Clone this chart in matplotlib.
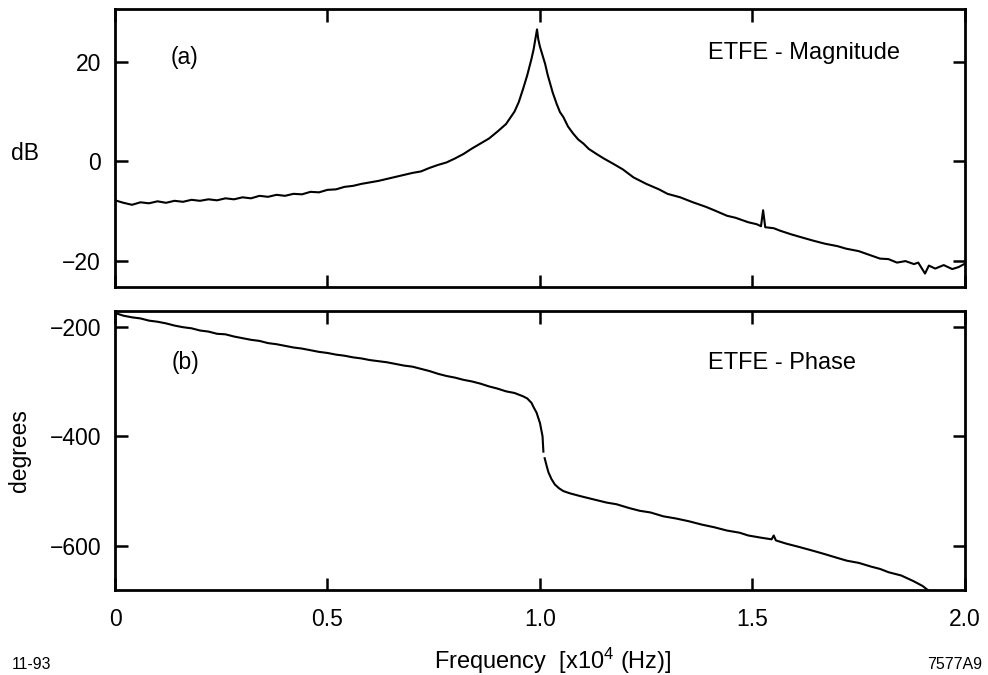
import numpy as np
import matplotlib
matplotlib.use('Agg')
import matplotlib.pyplot as plt

plt.rcParams['font.family'] = ['Liberation Sans', 'DejaVu Sans']
plt.rcParams['mathtext.fontset'] = 'custom'
plt.rcParams['mathtext.rm'] = 'Liberation Sans'
plt.rcParams['mathtext.it'] = 'Liberation Sans'

# ETFE magnitude (frequency in 1e4 Hz, dB)
mag_freq = [0.00, 0.02, 0.04, 0.06, 0.08, 0.10, 0.12, 0.14, 0.16, 0.18,
            0.20, 0.22, 0.24, 0.26, 0.28, 0.30, 0.32, 0.34, 0.36, 0.38,
            0.40, 0.42, 0.44, 0.46, 0.48, 0.50, 0.52, 0.54, 0.56, 0.58,
            0.60, 0.62, 0.64, 0.66, 0.68, 0.70, 0.72, 0.74, 0.76, 0.78,
            0.80, 0.82, 0.84, 0.86, 0.88, 0.90, 0.92, 0.94, 0.95, 0.96,
            0.97, 0.98, 0.985, 0.99, 0.993, 0.996, 1.00, 1.006, 1.012, 1.018,
            1.024, 1.03, 1.039, 1.047, 1.055, 1.066, 1.078, 1.09, 1.102, 1.115,
            1.133, 1.15, 1.173, 1.195, 1.22, 1.25, 1.28, 1.30, 1.33, 1.36,
            1.39, 1.41, 1.44, 1.46, 1.49, 1.51, 1.52, 1.525, 1.53, 1.55,
            1.565, 1.59, 1.61, 1.643, 1.67, 1.70, 1.72, 1.75, 1.78, 1.80,
            1.82, 1.84, 1.86, 1.88, 1.89, 1.906, 1.915, 1.93, 1.95, 1.97,
            1.985, 2.00]
mag_db = [-7.8, -8.3, -8.7, -8.2, -8.4, -8.0, -8.3, -7.9, -8.1, -7.7,
          -7.9, -7.6, -7.8, -7.4, -7.6, -7.2, -7.4, -6.9, -7.1, -6.7,
          -6.9, -6.5, -6.6, -6.1, -6.2, -5.7, -5.6, -5.1, -4.9, -4.5,
          -4.2, -3.9, -3.5, -3.1, -2.7, -2.3, -2.0, -1.3, -0.7, -0.2,
          0.6, 1.5, 2.6, 3.6, 4.6, 6.0, 7.5, 10.0, 11.9, 14.5,
          17.3, 20.6, 22.5, 25.0, 26.5, 24.5, 23.0, 21.3, 19.6, 17.4,
          15.6, 13.8, 11.6, 9.9, 8.9, 7.0, 5.6, 4.4, 3.6, 2.5,
          1.5, 0.6, -0.5, -1.6, -3.2, -4.5, -5.6, -6.5, -7.2, -8.2,
          -9.1, -9.8, -10.9, -11.3, -12.2, -12.6, -13.0, -9.8, -13.2, -13.4,
          -13.9, -14.6, -15.1, -15.9, -16.5, -17.0, -17.5, -18.0, -18.9, -19.5,
          -19.6, -20.3, -20.0, -20.6, -20.3, -22.5, -20.9, -21.5, -20.8, -21.6,
          -21.2, -20.5]

# ETFE phase (degrees); None marks the small break at the jump
ph_freq = [0.00, 0.02, 0.04, 0.06, 0.08, 0.10, 0.12, 0.14, 0.16, 0.18,
           0.20, 0.22, 0.24, 0.26, 0.28, 0.30, 0.32, 0.34, 0.36, 0.38,
           0.40, 0.42, 0.44, 0.46, 0.48, 0.50, 0.52, 0.54, 0.56, 0.58,
           0.60, 0.62, 0.64, 0.66, 0.68, 0.70, 0.72, 0.74, 0.76, 0.78,
           0.80, 0.82, 0.84, 0.86, 0.88, 0.90, 0.92, 0.94, 0.96, 0.97,
           0.98, 0.985, 0.992, 1.000, 1.004, 1.006, 1.008, 1.0095, 1.011, 1.016,
           1.020, 1.027, 1.035, 1.045, 1.055, 1.07, 1.094, 1.12, 1.157, 1.18,
           1.21, 1.235, 1.26, 1.29, 1.32, 1.35, 1.38, 1.41, 1.44, 1.47,
           1.49, 1.52, 1.545, 1.55, 1.555, 1.58, 1.61, 1.643, 1.67, 1.70,
           1.722, 1.75, 1.78, 1.80, 1.82, 1.85, 1.878, 1.90, 1.915]
ph_deg = [-175, -180, -183, -185, -189, -191, -194, -198, -201, -203,
          -207, -209, -213, -214, -218, -221, -224, -226, -230, -232,
          -235, -238, -240, -243, -246, -248, -251, -253, -256, -258,
          -261, -263, -265, -268, -271, -273, -277, -281, -286, -290,
          -293, -297, -300, -304, -309, -313, -318, -321, -327, -331,
          -339, -347, -357, -376, -392, -400, -428, None, -440, -455,
          -466, -478, -488, -495, -500, -504, -509, -514, -521, -524,
          -531, -536, -539, -546, -550, -555, -561, -566, -572, -576,
          -581, -585, -588, -581, -590, -596, -602, -609, -615, -622,
          -627, -631, -638, -642, -648, -654, -664, -673, -682]

xticks = [0, 0.5, 1.0, 1.5, 2.0]
xtick_labels = ['0', '0.5', '1.0', '1.5', '2.0']
mag_ticks = [-20, 0, 20]
ph_ticks = [-600, -400, -200]

fig = plt.figure(figsize=(9.88, 6.75), dpi=100)
ax1 = fig.add_axes([0.1164, 0.5748, 0.8603, 0.4119])
ax2 = fig.add_axes([0.1164, 0.1259, 0.8603, 0.4133])

ph_vals = np.array([np.nan if v is None else v for v in ph_deg], dtype=float)
ax1.plot(mag_freq, mag_db, color='black', lw=1.5)
ax2.plot(ph_freq, ph_vals, color='black', lw=1.5)

for ax in (ax1, ax2):
    ax.set_xlim(0, 2)
    ax.set_xticks(xticks)
    for s in ax.spines.values():
        s.set_linewidth(2.0)
    ax.tick_params(direction='in', length=9, width=1.8, top=True, right=True,
                   labelsize=16.5)
    ax.tick_params(axis='y', pad=10)
    ax.tick_params(axis='x', pad=13)

ax1.set_ylim(-25.2, 30.6)
ax1.set_yticks(mag_ticks)
ax1.set_xticklabels([])
ax2.set_ylim(-680.5, -171.5)
ax2.set_yticks(ph_ticks)
ax2.set_xticklabels(xtick_labels)

ax1.text(0.082, 0.827, '(a)', transform=ax1.transAxes, fontsize=16.5,
         ha='center', va='center')
ax1.text(0.698, 0.842, 'ETFE - Magnitude', transform=ax1.transAxes,
         fontsize=17, ha='left', va='center')
ax2.text(0.0835, 0.814, '(b)', transform=ax2.transAxes, fontsize=16.5,
         ha='center', va='center')
ax2.text(0.698, 0.814, 'ETFE - Phase', transform=ax2.transAxes,
         fontsize=17, ha='left', va='center')

fig.text(0.025, 0.773, 'dB', fontsize=16.5, ha='center', va='center')
fig.text(0.020, 0.333, 'degrees', fontsize=16.5, ha='center', va='center',
         rotation=90)
fig.text(0.559, 0.021, 'Frequency  [x10$^4$ (Hz)]', fontsize=17,
         ha='center', va='center')
fig.text(0.032, 0.015, '11-93', fontsize=11.3, ha='center', va='center')
fig.text(0.966, 0.015, '7577A9', fontsize=11.5, ha='center', va='center')

fig.savefig('out.png', dpi=100)
